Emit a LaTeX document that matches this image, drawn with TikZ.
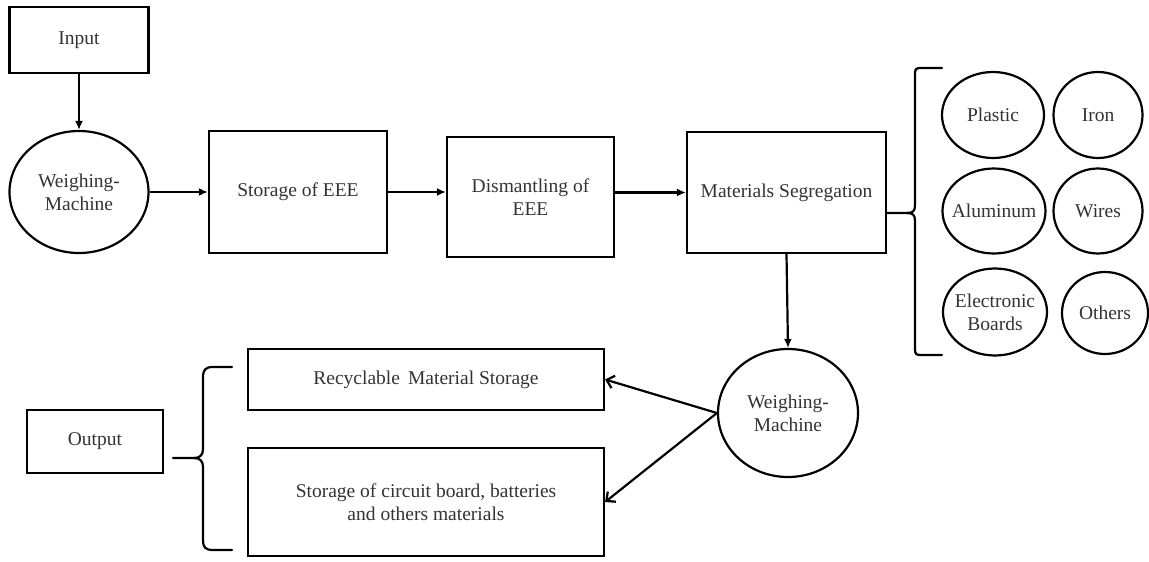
\documentclass[tikz,border=0pt]{standalone}
\usepackage{fontspec}
\setmainfont{Liberation Serif}
\usetikzlibrary{shapes.geometric,arrows.meta}
\newcommand{\zwbox}[1]{\makebox[0pt][c]{#1}}
\begin{document}
\begin{tikzpicture}[x=1pt,y=-1pt,
  every node/.style={font=\fontsize{19.5}{23}\selectfont, text=black!80, align=center, inner sep=0pt},
  boxnode/.style={draw=black, line width=2.2pt, rectangle},
  ovalnode/.style={draw=black, line width=2.2pt, ellipse},
  flow/.style={line width=2.2pt, -{Latex[length=9pt,width=8pt]}},
  outflow/.style={line width=2.2pt, -{Straight Barb[length=7pt,width=13pt]}},
  bracket/.style={line width=2.2pt, line cap=round}]
\useasboundingbox (0,0) rectangle (1149,562);

% main flow
\node[boxnode, minimum width=139pt, minimum height=66pt] (input) at (79,40) {Input};
\node[ovalnode, minimum width=139pt, minimum height=122pt] (wm1) at (79,192) {Weighing-\\Machine};
\node[boxnode, minimum width=178pt, minimum height=122pt] (storage) at (298,192) {Storage of EEE};
\node[boxnode, minimum width=167pt, minimum height=120pt] (dism) at (530.5,197) {Dismantling of\\EEE};
\node[boxnode, minimum width=199pt, minimum height=121pt] (matseg) at (786.5,192.5) {Materials Segregation};
\node[ovalnode, minimum width=140pt, minimum height=128pt] (wm2) at (788,413) {Weighing-\\Machine};

% materials
\node[ovalnode, minimum width=102pt, minimum height=86pt] (plastic) at (993,115) {\zwbox{Plastic}};
\node[ovalnode, minimum width=89pt, minimum height=86pt] (iron) at (1098,115) {\zwbox{Iron}};
\node[ovalnode, minimum width=103pt, minimum height=85pt] (alu) at (994,211) {\zwbox{Aluminum}};
\node[ovalnode, minimum width=89pt, minimum height=85pt] (wires) at (1098,211) {\zwbox{Wires}};
\node[ovalnode, minimum width=104pt, minimum height=87pt] (eboards) at (995,312) {\zwbox{Electronic}\\\zwbox{Boards}};
\node[ovalnode, minimum width=86pt, minimum height=82pt] (others) at (1105,313) {\zwbox{Others}};

% outputs
\node[boxnode, minimum width=356pt, minimum height=61pt] (recyc) at (426,379.5) {Recyclable\, Material Storage};
\node[boxnode, minimum width=356pt, minimum height=108pt] (circuit) at (426,502) {Storage of circuit board, batteries\\and others materials};
\node[boxnode, minimum width=136pt, minimum height=63pt] (output) at (95,441.5) {Output};

% connectors
\draw[flow] (input.south) -- (wm1.north);
\draw[flow] (wm1.east) -- (storage.west);
\draw[flow] (storage.east) -- (storage.east -| dism.west);
\draw[flow] (matseg.west -| dism.east) -- (matseg.west);
\draw[flow] (matseg.south) -- (wm2.north);
\draw[outflow] (wm2.west) -- (recyc.east);
\draw[outflow] (wm2.west) -- (circuit.east);

% bracket for materials
\coordinate (mtip) at (matseg.east |- 0,213);
\draw[bracket] (942,68) -- (921,68) .. controls (916,68) and (915,69) .. (915,74) -- (915,205)
  .. controls (915,211) and (913,213) .. (907,213) -- (mtip);
\draw[bracket] (907,213) .. controls (913,213) and (915,215) .. (915,221) -- (915,349)
  .. controls (915,354) and (916,355) .. (921,355) -- (942,355);

% brace for outputs
\coordinate (otip) at (173,458);
\draw[bracket] (232,367) -- (213,367) .. controls (205,367) and (203,370) .. (203,378) -- (203,449)
  .. controls (203,455) and (200,458) .. (194,458) -- (otip);
\draw[bracket] (194,458) .. controls (200,458) and (203,461) .. (203,467) -- (203,540)
  .. controls (203,547) and (205,550) .. (213,550) -- (232,550);
\end{tikzpicture}
\end{document}
